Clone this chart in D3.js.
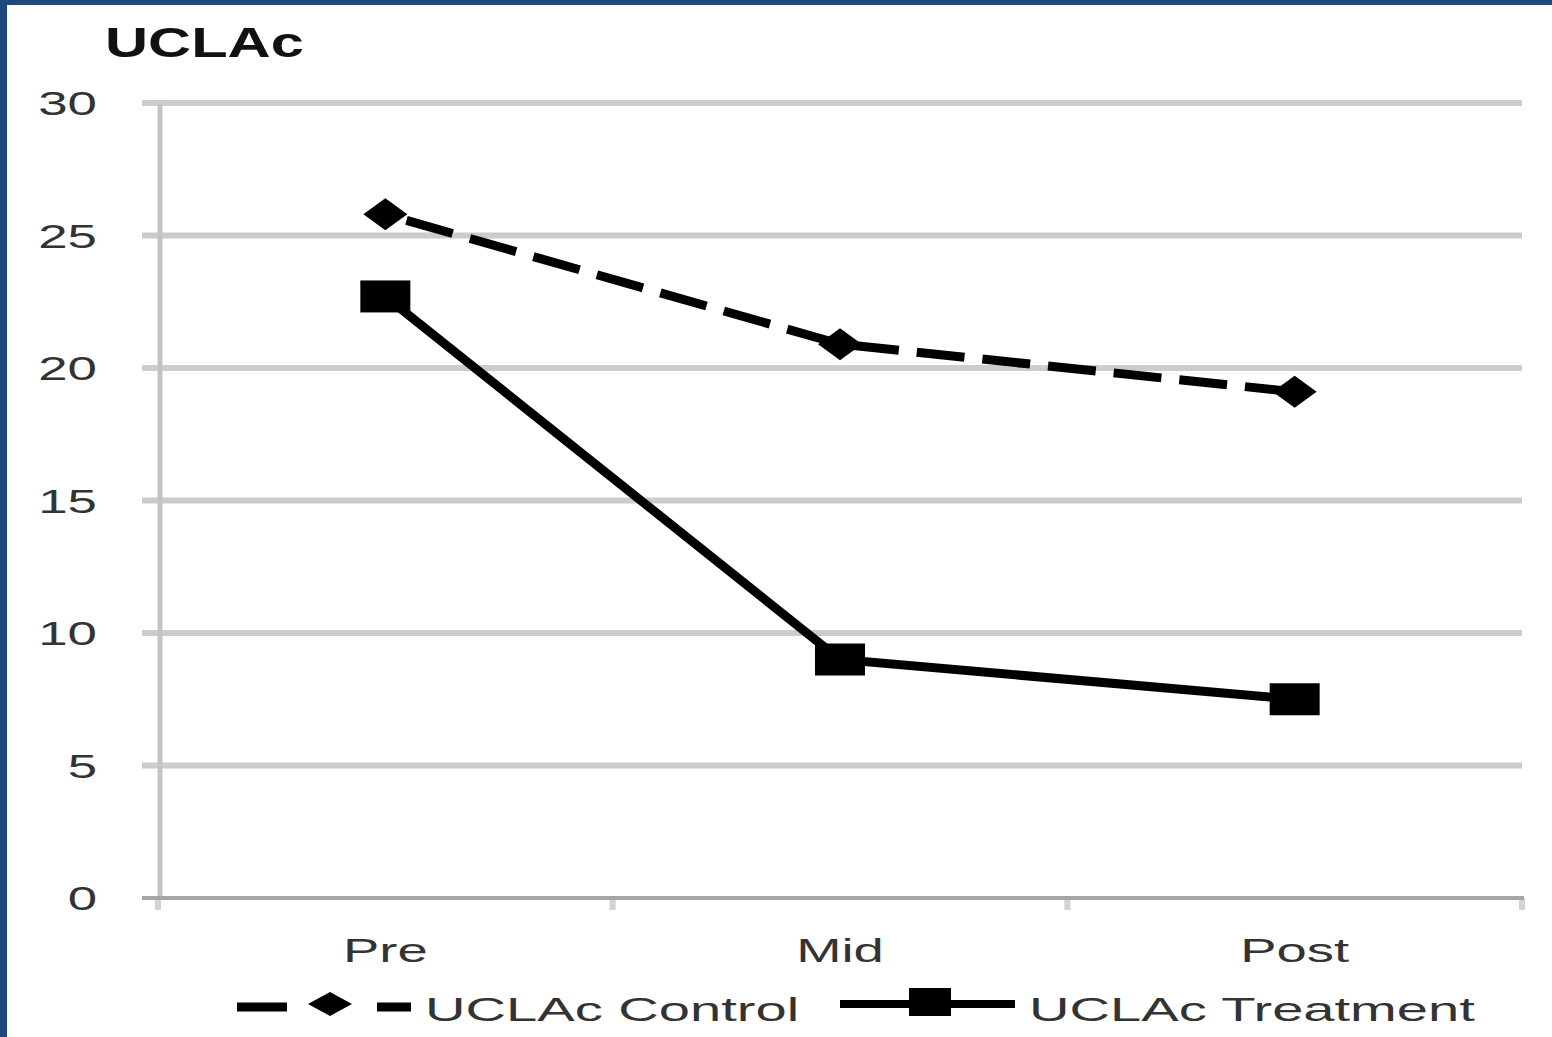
<!DOCTYPE html>
<html>
<head>
<meta charset="utf-8">
<script src="https://cdn.jsdelivr.net/npm/d3@7"></script>
<style>
  html, body { margin: 0; padding: 0; background: #fff; }
  svg { display: block; }
</style>
</head>
<body>
<svg></svg>
<script>
// ====== données ====== //
const categories = ["Pre", "Mid", "Post"];
const controlValues = [25.8, 20.9, 19.1];
const treatmentValues = [22.7, 9.0, 7.5];
const yTicks = [0, 5, 10, 15, 20, 25, 30];
const chartTitle = "UCLAc";
const seriesNames = ["UCLAc Control", "UCLAc Treatment"];

const width = 1552;
const height = 1037;
const sx = 1.6; // l'image d'origine est étirée horizontalement
const font = "'Liberation Sans', Arial, sans-serif";

const svg = d3.select("svg")
    .attr("width", width)
    .attr("height", height);

// cadre bleu (haut + gauche)
svg.append("rect").attr("x", 0).attr("y", 0).attr("width", width).attr("height", 5).attr("fill", "#1f497d");
svg.append("rect").attr("x", 0).attr("y", 0).attr("width", 7).attr("height", height).attr("fill", "#1f497d");

// scales
const x = d3.scaleBand().domain(categories).range([158, 1522]).padding(0);
const y = d3.scaleLinear().domain([0, 30]).range([898, 103]);
const cx = d => x(d) + x.bandwidth() / 2;

// étire un texte horizontalement
function stretch(sel, f) {
  sel.each(function() {
    const w = this.getComputedTextLength();
    d3.select(this).attr("textLength", w * f).attr("lengthAdjust", "spacingAndGlyphs");
  });
}

// grille horizontale
svg.append("g")
  .selectAll("line")
  .data(yTicks.filter(t => t > 0))
  .join("line")
  .attr("x1", 142).attr("x2", 1522)
  .attr("y1", d => y(d)).attr("y2", d => y(d))
  .attr("stroke", "#cccccc")
  .attr("stroke-width", 6);

// axe vertical
svg.append("line")
  .attr("x1", 160).attr("x2", 160)
  .attr("y1", y(30)).attr("y2", y(0))
  .attr("stroke", "#c4c4c4")
  .attr("stroke-width", 5);

// ticks x
const xTickPos = [158, ...categories.map(c => x(c) + x.bandwidth())];
svg.append("g")
  .selectAll("line")
  .data(xTickPos)
  .join("line")
  .attr("x1", d => d).attr("x2", d => d)
  .attr("y1", y(0)).attr("y2", y(0) + 12)
  .attr("stroke", "#d4d4d4")
  .attr("stroke-width", 6);

// axe horizontal
svg.append("line")
  .attr("x1", 142).attr("x2", 1524)
  .attr("y1", y(0)).attr("y2", y(0))
  .attr("stroke", "#a6a6a6")
  .attr("stroke-width", 4);

// labels y
const yLabels = svg.append("g")
  .selectAll("text")
  .data(yTicks)
  .join("text")
  .attr("x", 97)
  .attr("y", d => y(d) + 12)
  .attr("text-anchor", "end")
  .attr("font-family", font)
  .attr("font-size", 33)
  .attr("fill", "#333")
  .text(d => d);
stretch(yLabels, sx);

// labels x
const xLabels = svg.append("g")
  .selectAll("text")
  .data(categories)
  .join("text")
  .attr("x", d => cx(d))
  .attr("y", 962)
  .attr("text-anchor", "middle")
  .attr("font-family", font)
  .attr("font-size", 34)
  .attr("fill", "#333")
  .text(d => d);
stretch(xLabels, sx);

// titre
const title = svg.append("text")
  .attr("x", 105).attr("y", 57)
  .attr("font-family", font)
  .attr("font-weight", "bold")
  .attr("font-size", 42)
  .attr("fill", "#111")
  .text(chartTitle);
stretch(title, 1.42);

// lignes
const line = d3.line().x((d, i) => cx(categories[i])).y(d => y(d));

svg.append("path")
  .datum(controlValues)
  .attr("d", line)
  .attr("fill", "none")
  .attr("stroke", "#000")
  .attr("stroke-width", 9)
  .attr("stroke-dasharray", "48,18")
  .attr("stroke-dashoffset", -22);

svg.append("path")
  .datum(treatmentValues)
  .attr("d", line)
  .attr("fill", "none")
  .attr("stroke", "#000")
  .attr("stroke-width", 9);

// marqueurs
const diamond = (px, py, hw, hh) => `M${px - hw},${py} L${px},${py - hh} L${px + hw},${py} L${px},${py + hh} Z`;

svg.append("g")
  .selectAll("path")
  .data(controlValues)
  .join("path")
  .attr("d", (d, i) => diamond(cx(categories[i]), y(d), 22, 16))
  .attr("fill", "#000");

svg.append("g")
  .selectAll("rect")
  .data(treatmentValues)
  .join("rect")
  .attr("x", (d, i) => cx(categories[i]) - 25)
  .attr("y", d => y(d) - 16)
  .attr("width", 50)
  .attr("height", 32)
  .attr("fill", "#000");

// légende
const leg = svg.append("g");
leg.append("line")
  .attr("x1", 237).attr("x2", 411).attr("y1", 1007).attr("y2", 1007)
  .attr("stroke", "#000").attr("stroke-width", 9)
  .attr("stroke-dasharray", "50,18,0,200");
leg.append("line")
  .attr("x1", 377).attr("x2", 411).attr("y1", 1007).attr("y2", 1007)
  .attr("stroke", "#000").attr("stroke-width", 9);
leg.append("path")
  .attr("d", diamond(330, 1004, 22, 12))
  .attr("fill", "#000");
leg.append("line")
  .attr("x1", 840).attr("x2", 1015).attr("y1", 1004).attr("y2", 1004)
  .attr("stroke", "#000").attr("stroke-width", 8);
leg.append("rect")
  .attr("x", 909).attr("y", 988).attr("width", 42).attr("height", 28)
  .attr("fill", "#000");

const legText = leg.selectAll("text")
  .data(seriesNames)
  .join("text")
  .attr("x", (d, i) => i === 0 ? 425 : 1029)
  .attr("y", 1021)
  .attr("font-family", font)
  .attr("font-size", 33)
  .attr("fill", "#333")
  .text(d => d);
stretch(legText, 1.7);
</script>
</body>
</html>
